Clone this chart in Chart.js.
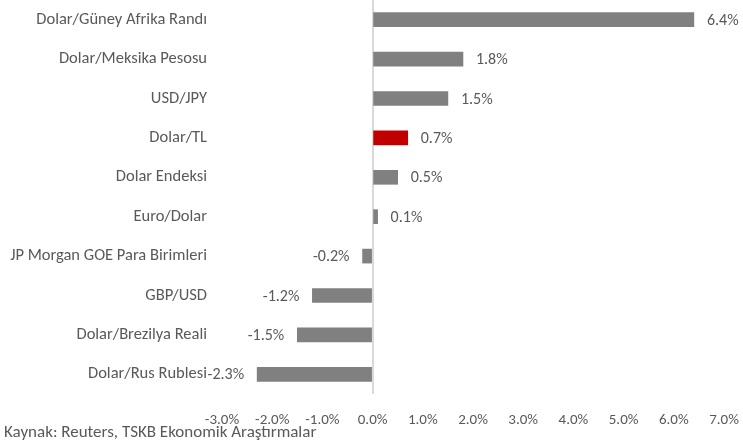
<!DOCTYPE html>
<html>
<head>
<meta charset="utf-8">
<script src="https://cdn.jsdelivr.net/npm/chart.js@4/dist/chart.umd.min.js"></script>
<style>
html,body{margin:0;padding:0;background:#fff;}
#wrap{width:743px;height:441px;position:relative;}
</style>
</head>
<body>
<div id="wrap"><canvas id="c" width="743" height="441"></canvas></div>
<script>
const categories = ["Dolar/Güney Afrika Randı","Dolar/Meksika Pesosu","USD/JPY","Dolar/TL","Dolar Endeksi","Euro/Dolar","JP Morgan GOE Para Birimleri","GBP/USD","Dolar/Brezilya Reali","Dolar/Rus Rublesi"];
const values = [6.4, 1.8, 1.5, 0.7, 0.5, 0.1, -0.2, -1.2, -1.5, -2.3];
const highlight = "Dolar/TL";
const xTicks = [-3, -2, -1, 0, 1, 2, 3, 4, 5, 6, 7];
const sourceText = "Kaynak: Reuters, TSKB Ekonomik Araştırmalar";

const FONT = "Carlito, Lato, 'Liberation Sans', sans-serif";
const TXT = "#595959";

const valueLabels = {
  id: 'valueLabels',
  afterDatasetsDraw(chart) {
    const ctx = chart.ctx;
    const meta = chart.getDatasetMeta(0);
    ctx.save();
    ctx.font = "16px " + FONT;
    ctx.fillStyle = TXT;
    ctx.textBaseline = 'middle';
    meta.data.forEach((bar, i) => {
      const v = values[i];
      const s = v.toFixed(1) + '%';
      if (v >= 0) { ctx.textAlign = 'left'; ctx.fillText(s, bar.x + 13, bar.y + 1); }
      else { ctx.textAlign = 'right'; ctx.fillText(s, bar.x - 13, bar.y + 1); }
    });
    ctx.restore();
  }
};

new Chart(document.getElementById('c'), {
  type: 'bar',
  data: {
    labels: categories,
    datasets: [{
      data: values,
      backgroundColor: categories.map(c => c === highlight ? '#C00000' : '#808080'),
      barThickness: 14,
      borderWidth: 0
    }]
  },
  options: {
    indexAxis: 'y',
    responsive: false,
    animation: false,
    layout: { padding: { left: 4, right: 19, top: 0, bottom: 0 } },
    plugins: {
      legend: { display: false },
      tooltip: { enabled: false },
      title: {
        display: true,
        text: sourceText,
        position: 'bottom',
        align: 'start',
        color: TXT,
        font: { family: FONT, size: 17, weight: 'normal', lineHeight: 1 },
        padding: { top: 0, bottom: 0 }
      }
    },
    scales: {
      x: {
        type: 'linear',
        min: -3, max: 7,
        afterBuildTicks: (s) => { s.ticks = xTicks.map(v => ({ value: v })); },
        afterFit: (s) => { s.height = 30; s.paddingLeft = 0; s.paddingRight = 0; },
        ticks: {
          color: TXT,
          font: { family: FONT, size: 15 },
          padding: 17,
          maxRotation: 0,
          callback: (v) => Number(v).toFixed(1) + '%'
        },
        grid: {
          drawTicks: false,
          lineWidth: 2,
          color: (ctx) => (ctx.tick && ctx.tick.value === 0) ? '#d9d9d9' : 'rgba(0,0,0,0)'
        },
        border: { display: false }
      },
      y: {
        afterFit: (s) => { s.width = 218; s.paddingTop = 0; s.paddingBottom = 0; },
        ticks: {
          color: TXT,
          font: { family: FONT, size: 16.5 },
          padding: 15,
          autoSkip: false
        },
        grid: { display: false, drawTicks: false },
        border: { display: false }
      }
    }
  },
  plugins: [valueLabels]
});
</script>
</body>
</html>
